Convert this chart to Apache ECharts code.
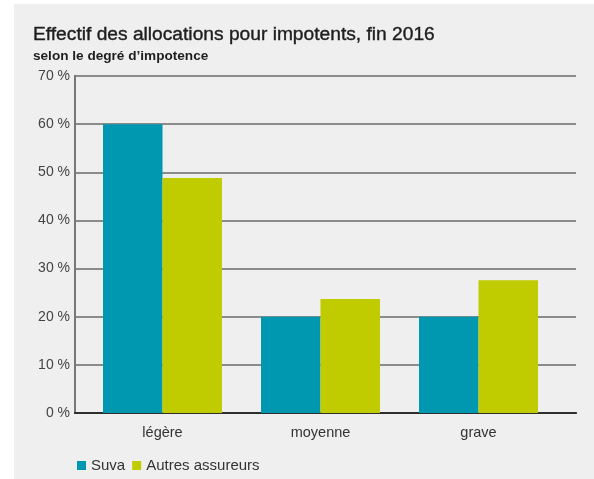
<!DOCTYPE html>
<html>
<head>
<meta charset="utf-8">
<script src="https://cdn.jsdelivr.net/npm/echarts@6/dist/echarts.min.js"></script>
<style>
  html, body { margin: 0; padding: 0; background: #ffffff; }
  #chart { width: 594px; height: 479px; }
</style>
</head>
<body>
<div id="chart"></div>
<script>
const categories = ['légère', 'moyenne', 'grave'];
const suva = [60, 20, 20];
const autres = [48.8, 23.7, 27.6];
const seriesNames = ['Suva', 'Autres assureurs'];
const yTicks = [0, 10, 20, 30, 40, 50, 60, 70];

const FONT = '"Liberation Sans", Arial, sans-serif';
const chart = echarts.init(document.getElementById('chart'), null, { renderer: 'canvas' });

chart.setOption({
  animation: false,
  backgroundColor: '#ffffff',
  graphic: [
    { type: 'rect', left: 14, top: 4, shape: { width: 580, height: 475 }, style: { fill: '#efefef' }, z: -10 }
  ],
  title: {
    text: 'Effectif des allocations pour impotents, fin 2016',
    subtext: 'selon le degré d’impotence',
    left: 28, top: 20,
    itemGap: 5,
    textStyle: { fontFamily: FONT, fontSize: 19.2, fontWeight: 'normal', color: '#1e1e1e',
      textBorderColor: '#1e1e1e', textBorderWidth: 0.4 },
    subtextStyle: { fontFamily: FONT, fontSize: 13.6, fontWeight: 'bold', color: '#1e1e1e' }
  },
  legend: {
    data: seriesNames,
    left: 72, top: 453,
    icon: 'rect', itemWidth: 9, itemHeight: 9, itemGap: 7,
    textStyle: { fontFamily: FONT, fontSize: 15, color: '#333' },
    selectedMode: false
  },
  grid: [
    { left: 75, right: 18, top: 76, bottom: 66 },
    { left: 83.5, right: 36.5, top: 76, bottom: 66 }
  ],
  xAxis: [
    { gridIndex: 0, type: 'value', min: 0, max: 1, position: 'bottom',
      axisLine: { show: true, lineStyle: { color: '#222', width: 2 } },
      axisTick: { show: false }, axisLabel: { show: false }, splitLine: { show: false } },
    { gridIndex: 0, type: 'value', min: 0, max: 1, position: 'top',
      axisLine: { show: true, lineStyle: { color: '#333', width: 1.5 } },
      axisTick: { show: false }, axisLabel: { show: false }, splitLine: { show: false } },
    { gridIndex: 1, type: 'category', data: categories,
      axisLine: { show: false }, axisTick: { show: false },
      axisLabel: { fontFamily: FONT, fontSize: 14.5, color: '#333', margin: 12 } }
  ],
  yAxis: [
    { gridIndex: 0, type: 'value', min: 0, max: 70, interval: 10, position: 'left',
      axisLine: { show: true, lineStyle: { color: '#222', width: 1.5 } },
      axisTick: { show: false },
      axisLabel: { fontFamily: FONT, fontSize: 14, color: '#444', margin: 5,
        formatter: v => yTicks.includes(v) ? v + ' %' : '' },
      splitLine: { show: true, lineStyle: { color: '#6a6a6a', width: 1.5 } } },
    { gridIndex: 0, type: 'value', min: 0, max: 70, position: 'right',
      axisLine: { show: true, lineStyle: { color: '#777', width: 2 } },
      axisTick: { show: false }, axisLabel: { show: false }, splitLine: { show: false } },
    { gridIndex: 1, type: 'value', min: 0, max: 70, show: false }
  ],
  series: [
    { name: seriesNames[0], type: 'bar', xAxisIndex: 2, yAxisIndex: 2, data: suva,
      barGap: '0%', barCategoryGap: '24.7%', itemStyle: { color: '#0097b0' }, z: 3 },
    { name: seriesNames[1], type: 'bar', xAxisIndex: 2, yAxisIndex: 2, data: autres,
      itemStyle: { color: '#c0cc00' }, z: 3 }
  ]
});
</script>
</body>
</html>
